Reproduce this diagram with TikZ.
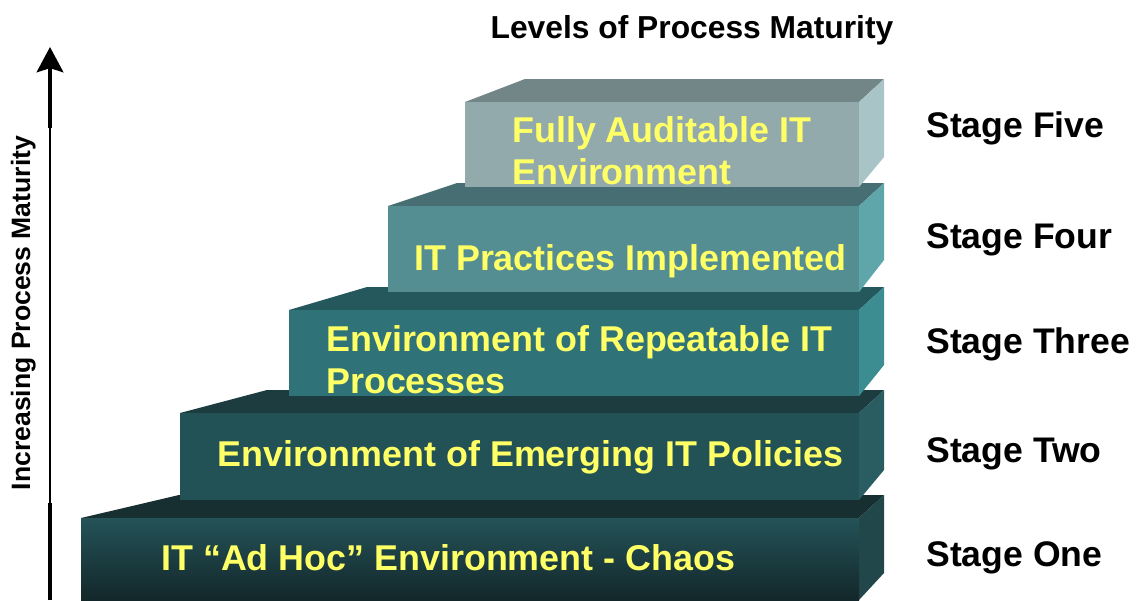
\documentclass[tikz,border=0pt]{standalone}
\usepackage{fontspec}
\setmainfont{Liberation Sans}
\usetikzlibrary{calc}
\usetikzlibrary{arrows.meta}
\definecolor[named]{StairYellow}{HTML}{FFFF66}
\definecolor[named]{OneFrontHi}{HTML}{245358}
\definecolor[named]{OneFrontLo}{HTML}{13272A}
\definecolor[named]{OneTop}{HTML}{182F32}
\definecolor[named]{OneSide}{HTML}{21474A}
\definecolor[named]{TwoFront}{HTML}{235256}
\definecolor[named]{TwoTop}{HTML}{1D3C3F}
\definecolor[named]{TwoSide}{HTML}{2A5D61}
\definecolor[named]{ThreeFront}{HTML}{2F7378}
\definecolor[named]{ThreeTop}{HTML}{24585C}
\definecolor[named]{ThreeSide}{HTML}{3C8D92}
\definecolor[named]{FourFront}{HTML}{548E93}
\definecolor[named]{FourTop}{HTML}{476F73}
\definecolor[named]{FourSide}{HTML}{5FA6AA}
\definecolor[named]{FiveFront}{HTML}{93AAAD}
\definecolor[named]{FiveTop}{HTML}{728587}
\definecolor[named]{FiveSide}{HTML}{A8C4C7}
\tikzset{
  one front/.style={top color=OneFrontHi,bottom color=OneFrontLo},
  one top/.style={fill=OneTop},
  one side/.style={fill=OneSide},
  two front/.style={fill=TwoFront},
  two top/.style={fill=TwoTop},
  two side/.style={fill=TwoSide},
  three front/.style={fill=ThreeFront},
  three top/.style={fill=ThreeTop},
  three side/.style={fill=ThreeSide},
  four front/.style={fill=FourFront},
  four top/.style={fill=FourTop},
  four side/.style={fill=FourSide},
  five front/.style={fill=FiveFront},
  five top/.style={fill=FiveTop},
  five side/.style={fill=FiveSide},
  stairtxt/.style={text=StairYellow,anchor=base west,align=left,inner sep=0pt,
    font=\bfseries\fontsize{25.5}{29.8}\selectfont},
  stagetxt/.style={anchor=base west,inner sep=0pt,
    font=\bfseries\fontsize{25.3}{30}\selectfont}
}
% left x, top y, back left x, bottom y, style, drop of the side face
\newcommand{\stair}[6]{
  \path[#5 top] (#1,#2) -- (#3,#2-23) -- (884,#2-23) -- (859,#2) -- cycle;
  \path[#5 side] (859,#2) -- (884,#2-23) -- (884,#4-#6) -- (859,#4) -- cycle;
  \path[#5 front] (#1,#2) rectangle (859,#4);
}

\begin{document}
\begin{tikzpicture}[x=0.025cm,y=-0.025cm]
  \useasboundingbox (0,0) rectangle (1142,600);
  % lowest stair first
  \stair{81}{518}{179}{600}{one}{27}
  \stair{180}{413}{267}{500}{two}{30}
  \stair{289}{310}{367}{396}{three}{31}
  \stair{388}{206}{457}{292}{four}{32}
  \stair{465}{102}{525}{187}{five}{30}
  % base of a two line text is its last line
  \node[stairtxt] (chaos) at (161,570) {IT “Ad Hoc” Environment - Chaos};
  \node[stairtxt] (policies) at (217,466) {Environment of Emerging IT Policies};
  \node[stairtxt] (repeatable) at (326,393) {Environment of Repeatable IT\\Processes};
  \node[stairtxt] (practices) at (414,270) {IT Practices Implemented};
  \node[stairtxt] (auditable) at (512,184) {Fully Auditable IT\\Environment};
  \node[stagetxt] (stage1) at (926,566) {Stage One};
  \node[stagetxt] (stage2) at (926,462) {Stage Two};
  \node[stagetxt] (stage3) at (926,353) {Stage Three};
  \node[stagetxt] (stage4) at (926,248) {Stage Four};
  \node[stagetxt] (stage5) at (926,137) {Stage Five};
  \node[anchor=base,inner sep=0pt,font=\bfseries\fontsize{22.6}{27}\selectfont]
    (title) at (692,38) {Levels of Process Maturity};
  % the axis
  \coordinate (axisbot) at (50,600);
  \coordinate (axislow) at (50,503);
  \coordinate (axishigh) at (50,128);
  \coordinate (axistop) at (50,47);
  \draw[line width=0.9pt] (axislow) -- (axishigh);
  \draw[line width=2.5pt] (axisbot) -- (axislow);
  \draw[line width=2.5pt,-{Stealth[length=18pt,width=19pt,inset=3pt]}] (axishigh) -- (axistop);
  \node[rotate=90,anchor=base,inner sep=0pt,font=\bfseries\fontsize{18.9}{22}\selectfont]
    (axislabel) at (30,313) {Increasing Process Maturity};
\end{tikzpicture}
\end{document}
